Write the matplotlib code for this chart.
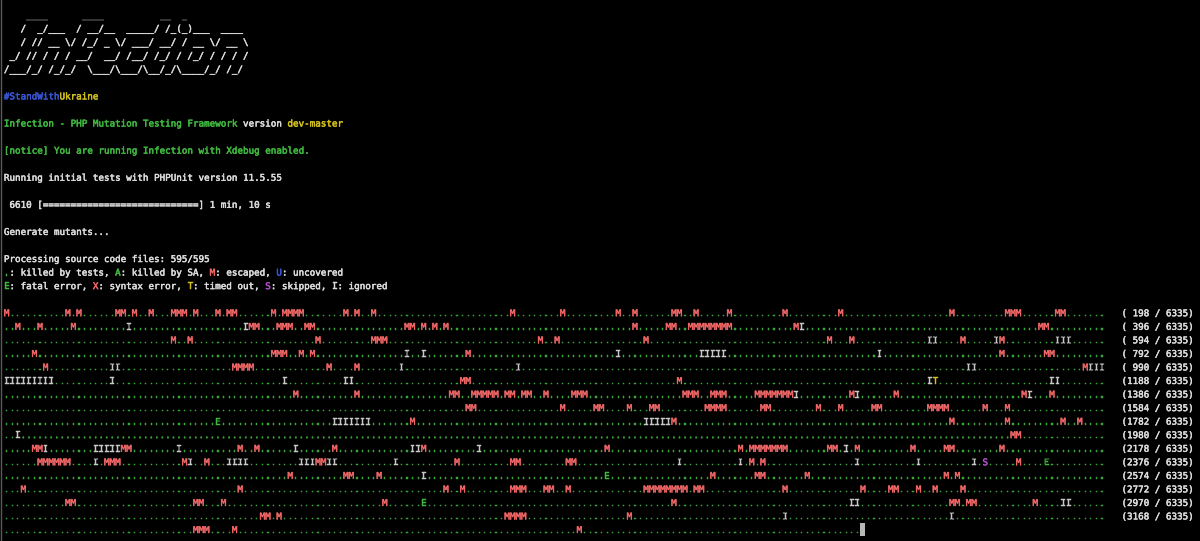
import matplotlib
matplotlib.use("Agg")
import matplotlib.pyplot as plt
import matplotlib.patheffects as pe

# terminal cell geometry (pixels)
CW = 5.56      # column width
LH = 13.55     # line height
X0 = 3.9       # left edge of column 0
Y0 = 14.7      # centre of first line
FS = 6.65      # font size in pt at dpi 100
FONT = "DejaVu Sans Mono"

BG = "#000000"
WHITE = "#dcdcdc"
GREEN = "#3fb83f"
DOT_GREEN = "#36a836"
RED = "#ef6666"
YELLOW = "#d2c01c"
BLUE = "#3a55d6"
MAGENTA = "#b04cc8"
GRAY = "#c8c8c8"

logo_lines = [
    r"    ____      ____          __  _",
    r"   /  _/___  / __/__  _____/ /_(_)___  ____",
    r"   / // __ \/ /_/ _ \/ ___/ __/ / __ \/ __ \\",
    r" _/ // / / / __/  __/ /__/ /_/ / /_/ / / / /",
    r"/___/_/ /_/_/  \___/\___/\__/_/\____/_/ /_/",
]

# header lines: (line number, [(text, colour), ...])
header_lines = [
    (6, [("#StandWith", BLUE), ("Ukraine", YELLOW)]),
    (8, [("Infection - PHP Mutation Testing Framework", GREEN), (" version ", WHITE), ("dev-master", YELLOW)]),
    (10, [("[notice] You are running Infection with Xdebug enabled.", GREEN)]),
    (12, [("Running initial tests with PHPUnit version 11.5.55", WHITE)]),
    (14, [(" 6610 [" + "=" * 28 + "] 1 min, 10 s", WHITE)]),
    (16, [("Generate mutants...", WHITE)]),
    (18, [("Processing source code files: 595/595", WHITE)]),
    (19, [(".", GREEN), (": killed by tests, ", WHITE), ("A", GREEN), (": killed by SA, ", WHITE),
          ("M", RED), (": escaped, ", WHITE), ("U", BLUE), (": uncovered", WHITE)]),
    (20, [("E", GREEN), (": fatal error, ", WHITE), ("X", RED), (": syntax error, ", WHITE),
          ("T", YELLOW), (": timed out, ", WHITE), ("S", MAGENTA), (": skipped, ", WHITE),
          ("I", WHITE), (": ignored", WHITE)]),
]

# mutant progress rows: non-dot symbols as (column, symbols)
grid_marks = [
    [(0, "M"), (11, "M"), (13, "M"), (20, "MM"), (23, "M"), (26, "M"), (30, "MMM"), (34, "M"), (38, "M"),
     (40, "MM"), (48, "M"), (50, "MMMM"), (61, "M"), (63, "M"), (66, "M"), (91, "M"), (100, "M"), (110, "M"),
     (113, "M"), (120, "MM"), (124, "M"), (130, "M"), (140, "M"), (150, "M"), (170, "M"), (180, "MMM"),
     (189, "MM")],
    [(2, "M"), (6, "M"), (12, "M"), (22, "I"), (43, "IMM"), (49, "MMM"), (54, "MM"), (72, "MM"), (75, "M"),
     (77, "M"), (79, "M"), (113, "M"), (119, "MM"), (123, "MMMMMMMM"), (142, "MI"), (186, "MM")],
    [(30, "M"), (33, "M"), (56, "M"), (66, "MMM"), (96, "M"), (99, "M"), (115, "M"), (148, "M"), (152, "M"),
     (166, "II"), (172, "M"), (178, "IM"), (189, "III")],
    [(5, "M"), (48, "MMM"), (53, "M"), (55, "M"), (72, "I"), (75, "I"), (83, "M"), (110, "I"), (125, "IIIII"),
     (157, "I"), (179, "M"), (187, "MM")],
    [(7, "M"), (19, "II"), (41, "MMMM"), (58, "M"), (63, "M"), (71, "I"), (92, "I"), (173, "II"), (194, "MIII")],
    [(0, "IIIIIIIII"), (19, "I"), (50, "I"), (61, "II"), (82, "MM"), (121, "M"), (166, "IT"), (188, "II")],
    [(52, "M"), (63, "M"), (80, "MM"), (84, "MMMMM"), (90, "MM"), (93, "MM"), (97, "M"), (102, "MMM"),
     (122, "MMM"), (127, "MMM"), (135, "MMMMMMMI"), (152, "MI"), (160, "M"), (183, "MI"), (188, "M")],
    [(83, "MM"), (100, "M"), (106, "MM"), (112, "M"), (116, "MM"), (126, "MMMM"), (136, "MM"), (146, "M"),
     (150, "M"), (156, "MM"), (166, "MMMM"), (176, "M"), (180, "M")],
    [(38, "E"), (59, "IIIIIII"), (73, "M"), (115, "IIIIIM"), (170, "M"), (180, "M"), (190, "M"), (193, "M")],
    [(2, "I"), (181, "MM")],
    [(5, "MMI"), (16, "IIIIIMM"), (31, "I"), (42, "M"), (45, "M"), (52, "I"), (59, "M"), (73, "IIM"), (85, "I"),
     (108, "M"), (132, "M"), (134, "MMMMMMM"), (148, "MM"), (151, "I"), (153, "M"), (163, "M"), (169, "MM"),
     (179, "M")],
    [(6, "MMMMMM"), (16, "I"), (18, "MMM"), (32, "MI"), (36, "M"), (40, "IIII"), (53, "IIIMMII"), (70, "I"),
     (81, "M"), (91, "MM"), (101, "MM"), (121, "I"), (132, "I"), (134, "M"), (136, "M"), (153, "I"), (164, "I"),
     (174, "I"), (176, "S"), (182, "M"), (187, "E")],
    [(51, "M"), (61, "MM"), (67, "M"), (75, "I"), (108, "E"), (127, "M"), (135, "MM"), (144, "M"), (169, "M"),
     (171, "M")],
    [(3, "M"), (42, "M"), (79, "M"), (82, "M"), (91, "MMM"), (97, "MM"), (101, "M"), (115, "MMMMMMMM"),
     (124, "MM"), (140, "M"), (154, "M"), (159, "MM"), (164, "M"), (167, "M"), (172, "M")],
    [(11, "MM"), (34, "MM"), (39, "M"), (68, "M"), (75, "E"), (120, "M"), (152, "II"), (170, "MM"), (173, "MM"),
     (185, "M"), (190, "II")],
    [(46, "MM"), (49, "M"), (90, "MMMM"), (112, "M"), (140, "I"), (170, "I")],
    [(34, "MMM"), (41, "M"), (103, "M")],
]
row_lengths = [198, 198, 198, 198, 198, 198, 198, 198, 198, 198, 198, 198, 198, 198, 198, 198, 154]
row_counts = [198, 396, 594, 792, 990, 1188, 1386, 1584, 1782, 1980, 2178, 2376, 2574, 2772, 2970, 3168]
total_mutants = 6335
first_grid_line = 22

symbol_colors = {".": DOT_GREEN, "M": RED, "I": GRAY, "E": GREEN, "T": YELLOW, "S": MAGENTA,
                 "A": GREEN, "U": BLUE, "X": RED}

fig = plt.figure(figsize=(12, 5.41), dpi=100)
fig.patch.set_facecolor(BG)
ax = fig.add_axes([0, 0, 1, 1])
ax.set_facecolor(BG)
ax.set_xlim(0, 1200)
ax.set_ylim(541, 0)
ax.axis("off")


def put(col, line, text, color):
    # thin stroke in the same colour to mimic the heavier terminal rendering
    ax.text(X0 + col * CW, Y0 + line * LH + 3.4, text, color=color, fontsize=FS,
            family=FONT, ha="left", va="baseline",
            path_effects=[pe.withStroke(linewidth=0.35, foreground=color)])


def put_runs(line, chars, colors):
    # group neighbouring characters of the same colour into one text
    start = 0
    while start < len(chars):
        end = start
        while end < len(chars) and colors[end] == colors[start]:
            end += 1
        put(start, line, chars[start:end], colors[start])
        start = end


for i, s in enumerate(logo_lines):
    put(0, i, s.replace("\\\\", "\\"), WHITE)

for line, parts in header_lines:
    col = 0
    for text, color in parts:
        put(col, line, text, color)
        col += len(text)

for r, marks in enumerate(grid_marks):
    chars = ["."] * row_lengths[r]
    for col, sym in marks:
        for k, ch in enumerate(sym):
            chars[col + k] = ch
    put_runs(first_grid_line + r, "".join(chars), [symbol_colors[c] for c in chars])
    if r < len(row_counts):
        put(201, first_grid_line + r, "(%4d / %d)" % (row_counts[r], total_mutants), WHITE)

# cursor block after the last symbol
last = first_grid_line + len(grid_marks) - 1
cx = X0 + row_lengths[-1] * CW
ax.add_patch(plt.Rectangle((cx, Y0 + last * LH - 6.3), CW - 0.6, 12.2, color="#b8b8b8", lw=0))

# window edge
ax.plot([0.6, 0.6], [0, 541], color="#5a5a5a", lw=1)

fig.savefig("out.png", dpi=100, facecolor=BG)
